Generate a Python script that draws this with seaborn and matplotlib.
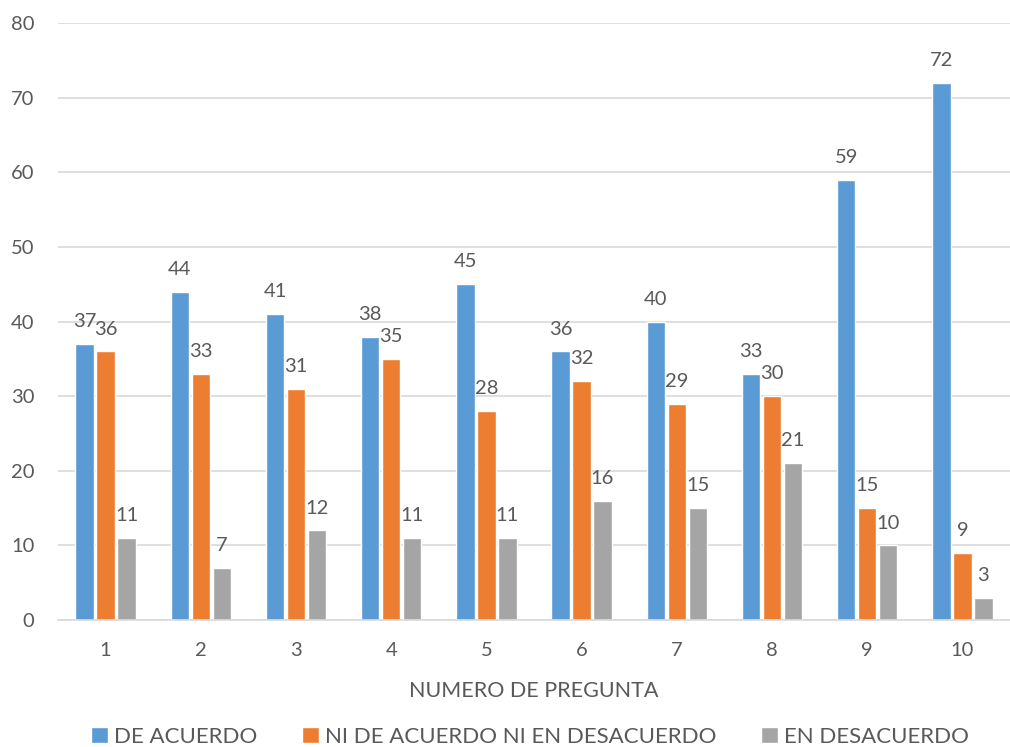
import matplotlib
matplotlib.use("Agg")
import matplotlib.pyplot as plt
import seaborn as sn
import pandas as pd

preguntas = ["1", "2", "3", "4", "5", "6", "7", "8", "9", "10"]
de_acuerdo = [37, 44, 41, 38, 45, 36, 40, 33, 59, 72]
ni_ni = [36, 33, 31, 35, 28, 32, 29, 30, 15, 9]
en_desacuerdo = [11, 7, 12, 11, 11, 16, 15, 21, 10, 3]
series = ["DE ACUERDO", "NI DE ACUERDO NI EN DESACUERDO", "EN DESACUERDO"]
colores = ["#5B9BD5", "#ED7D31", "#A5A5A5"]

rows = []
for s, vals in zip(series, [de_acuerdo, ni_ni, en_desacuerdo]):
    for p, v in zip(preguntas, vals):
        rows.append({"pregunta": p, "serie": s, "valor": v})
df = pd.DataFrame(rows)

sn.set_style("white")
plt.rcParams["font.family"] = ["Lato", "DejaVu Sans"]
texto = "#595959"

fig = plt.figure(figsize=(10.1, 7.47), dpi=100)
ax = fig.add_axes([0.0574, 0.17, 0.9426, 0.799])
sn.barplot(data=df, x="pregunta", y="valor", hue="serie", hue_order=series,
           palette=colores, width=0.66, gap=0.12, ax=ax, saturation=1)

for c in ax.containers:
    ax.bar_label(c, padding=10, fontsize=14.5, color=texto)

ax.set_ylim(0, 80)
ax.set_yticks(range(0, 81, 10))
ax.yaxis.grid(True, color="#D9D9D9", linewidth=1.2)
ax.set_axisbelow(True)
for sp in ["top", "right", "left"]:
    ax.spines[sp].set_visible(False)
ax.spines["bottom"].set_color("#D9D9D9")
ax.spines["bottom"].set_linewidth(1.2)
ax.tick_params(axis="both", length=0, labelsize=14.5, labelcolor=texto)
ax.tick_params(axis="x", pad=16)
ax.tick_params(axis="y", pad=17)
ax.set_xlabel("NUMERO DE PREGUNTA", fontsize=15.5, color=texto, labelpad=16)
ax.set_ylabel("")

ax.legend(loc="center", bbox_to_anchor=(0.496, -0.196), ncol=3, frameon=False,
          fontsize=16, handlelength=0.75, handleheight=0.75, handletextpad=0.3,
          columnspacing=2.0, labelcolor=texto)

fig.savefig("out.png", dpi=100)
